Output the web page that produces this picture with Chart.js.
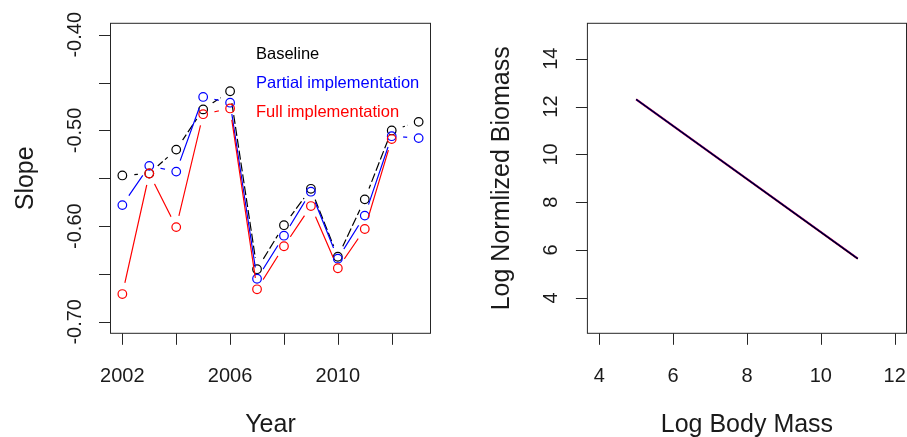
<!DOCTYPE html>
<html>
<head>
<meta charset="utf-8">
<script src="https://cdn.jsdelivr.net/npm/chart.js@4.4.1/dist/chart.umd.min.js"></script>
<style>
  html, body { margin: 0; padding: 0; background: #ffffff; overflow: hidden; }
  canvas { position: absolute; left: 0; top: 0; }
</style>
</head>
<body>
<canvas id="left" width="907" height="437"></canvas>
<canvas id="right" width="907" height="437"></canvas>
<script>
// ---------------- data ----------------
const years = [2002, 2003, 2004, 2005, 2006, 2007, 2008, 2009, 2010, 2011, 2012, 2013];
const baselineSlope = [-0.547, -0.545, -0.520, -0.478, -0.459, -0.645, -0.599, -0.561, -0.632, -0.572, -0.500, -0.491];
const partialSlope  = [-0.578, -0.537, -0.543, -0.465, -0.471, -0.655, -0.610, -0.564, -0.634, -0.589, -0.506, -0.508];
const fullSlope     = [-0.671, -0.545, -0.601, -0.483, -0.477, -0.666, -0.621, -0.579, -0.644, -0.603, -0.509, null];
const seriesNames = ['Baseline', 'Partial implementation', 'Full implementation'];

const yearTicks = [2002, 2004, 2006, 2008, 2010, 2012];
const yearTickLabels = ['2002', '', '2006', '', '2010', ''];
const slopeTicks = [-0.40, -0.45, -0.50, -0.55, -0.60, -0.65, -0.70];
const slopeTickLabels = ['-0.40', '', '-0.50', '', '-0.60', '', '-0.70'];

const bodyMass = [5, 11];
const baselineFit = [12.30, 5.64];
const partialFit  = [12.30, 5.64];
const fullFit     = [12.30, 5.64];
const massTicks = [4, 6, 8, 10, 12];
const massTickLabels = ['4', '6', '8', '10', '12'];
const biomassTicks = [4, 6, 8, 10, 12, 14];
const biomassTickLabels = ['4', '6', '8', '10', '12', '14'];

// ---------------- helpers ----------------
const FONT = '"Liberation Sans", Arial, Helvetica, sans-serif';
const COLORS = ['#000000', '#0000ff', '#ff0000'];
function pts(xs, ys) {
  const out = [];
  xs.forEach((x, i) => { if (ys[i] !== null && ys[i] !== undefined) out.push({ x: x, y: ys[i] }); });
  return out;
}

// Line gaps around points, like R type="b"
const gapPlugin = {
  id: 'rGap',
  beforeDatasetDraw(chart, args) {
    const ds = chart.data.datasets[args.index];
    if (!ds.gapRadius) return;
    const ctx = chart.ctx;
    ctx.save();
    ctx.beginPath();
    ctx.rect(0, 0, chart.width, chart.height);
    args.meta.data.forEach(el => {
      ctx.moveTo(el.x + ds.gapRadius, el.y);
      ctx.arc(el.x, el.y, ds.gapRadius, 0, Math.PI * 2);
    });
    ctx.clip('evenodd');
  },
  afterDatasetDraw(chart, args) {
    const ds = chart.data.datasets[args.index];
    if (!ds.gapRadius) return;
    chart.ctx.restore();
  }
};

// R-style box, ticks, labels, titles and text legend
const axesPlugin = {
  id: 'rAxes',
  afterDraw(chart, args, o) {
    const ctx = chart.ctx;
    const a = chart.chartArea;
    const xs = chart.scales.x, ys = chart.scales.y;
    ctx.save();
    ctx.strokeStyle = '#262626';
    ctx.lineWidth = 1;
    ctx.strokeRect(a.left, a.top, a.right - a.left, a.bottom - a.top);
    const tl = 11.5;
    ctx.beginPath();
    o.xTicks.forEach(v => {
      const px = Math.round(xs.getPixelForValue(v)) + 0.5;
      ctx.moveTo(px, a.bottom); ctx.lineTo(px, a.bottom + tl);
    });
    o.yTicks.forEach(v => {
      const py = Math.round(ys.getPixelForValue(v)) + 0.5;
      ctx.moveTo(a.left, py); ctx.lineTo(a.left - tl, py);
    });
    ctx.stroke();

    ctx.fillStyle = '#1a1a1a';
    ctx.font = '20px ' + FONT;
    ctx.textAlign = 'center';
    ctx.textBaseline = 'alphabetic';
    o.xTicks.forEach((v, i) => {
      if (!o.xLabels[i]) return;
      ctx.fillText(o.xLabels[i], xs.getPixelForValue(v), a.bottom + 48.5);
    });
    o.yTicks.forEach((v, i) => {
      if (!o.yLabels[i]) return;
      ctx.save();
      ctx.translate(a.left - 30, ys.getPixelForValue(v));
      ctx.rotate(-Math.PI / 2);
      ctx.fillText(o.yLabels[i], 0, 0);
      ctx.restore();
    });

    ctx.font = '25px ' + FONT;
    ctx.fillText(o.xTitle, (a.left + a.right) / 2, a.bottom + 98.5);
    ctx.save();
    ctx.translate(a.left - 78, (a.top + a.bottom) / 2);
    ctx.rotate(-Math.PI / 2);
    ctx.fillText(o.yTitle, 0, 0);
    ctx.restore();

    if (o.legend) {
      ctx.font = '16.5px ' + FONT;
      ctx.textAlign = 'left';
      o.legend.items.forEach((t, i) => {
        ctx.fillStyle = o.legend.colors[i];
        ctx.fillText(t, o.legend.x, o.legend.y + i * o.legend.dy);
      });
    }
    ctx.restore();
  }
};

const common = {
  responsive: false,
  animation: false,
  devicePixelRatio: 1,
  events: [],
};

// ---------------- left chart ----------------
const slopeSeries = [baselineSlope, partialSlope, fullSlope];
const leftDatasets = [];
slopeSeries.forEach((vals, i) => {
  leftDatasets.push({
    label: seriesNames[i] + ' line',
    data: pts(years, vals),
    borderColor: COLORS[i],
    borderWidth: 1.2,
    borderDash: i === 0 ? [9, 3] : [],
    pointRadius: 0,
    showLine: true,
    fill: false,
    tension: 0,
    gapRadius: 11.5,
    order: 10 - 2 * i,
    clip: false
  });
  leftDatasets.push({
    label: seriesNames[i],
    data: pts(years, vals),
    showLine: false,
    pointRadius: 4.3,
    pointStyle: 'circle',
    pointBorderColor: COLORS[i],
    pointBackgroundColor: 'rgba(0,0,0,0)',
    pointBorderWidth: 1.2,
    order: 9 - 2 * i,
    clip: false
  });
});

new Chart(document.getElementById('left'), {
  type: 'line',
  data: { datasets: leftDatasets },
  options: Object.assign({}, common, {
    layout: { padding: { left: 110.5, top: 23.3, right: 907 - 430.5, bottom: 437 - 333.3 } },
    scales: {
      x: { type: 'linear', min: 2001.56, max: 2013.44, display: false },
      y: { type: 'linear', min: -0.712, max: -0.388, display: false }
    },
    plugins: {
      legend: { display: false },
      tooltip: { enabled: false },
      rAxes: {
        xTicks: yearTicks, xLabels: yearTickLabels,
        yTicks: slopeTicks, yLabels: slopeTickLabels,
        xTitle: 'Year', yTitle: 'Slope',
        legend: { items: seriesNames, colors: COLORS, x: 256, y: 59, dy: 29 }
      }
    }
  }),
  plugins: [gapPlugin, axesPlugin]
});

// ---------------- right chart ----------------
const fits = [baselineFit, partialFit, fullFit];
const fitWidths = [1.2, 1.6, 2.0];
const rightDatasets = fits.map((vals, i) => ({
  label: seriesNames[i],
  data: pts(bodyMass, vals),
  borderColor: COLORS[i],
  borderWidth: fitWidths[i],
  pointRadius: 0,
  showLine: true,
  fill: false,
  tension: 0,
  order: i
}));

new Chart(document.getElementById('right'), {
  type: 'line',
  data: { datasets: rightDatasets },
  options: Object.assign({}, common, {
    layout: { padding: { left: 587.4, top: 23.3, right: 0.5, bottom: 437 - 333.3 } },
    scales: {
      x: { type: 'linear', min: 3.68, max: 12.32, display: false },
      y: { type: 'linear', min: 2.52, max: 15.48, display: false }
    },
    plugins: {
      legend: { display: false },
      tooltip: { enabled: false },
      rAxes: {
        xTicks: massTicks, xLabels: massTickLabels,
        yTicks: biomassTicks, yLabels: biomassTickLabels,
        xTitle: 'Log Body Mass', yTitle: 'Log Normlized Biomass'
      }
    }
  }),
  plugins: [axesPlugin]
});
</script>
</body>
</html>
